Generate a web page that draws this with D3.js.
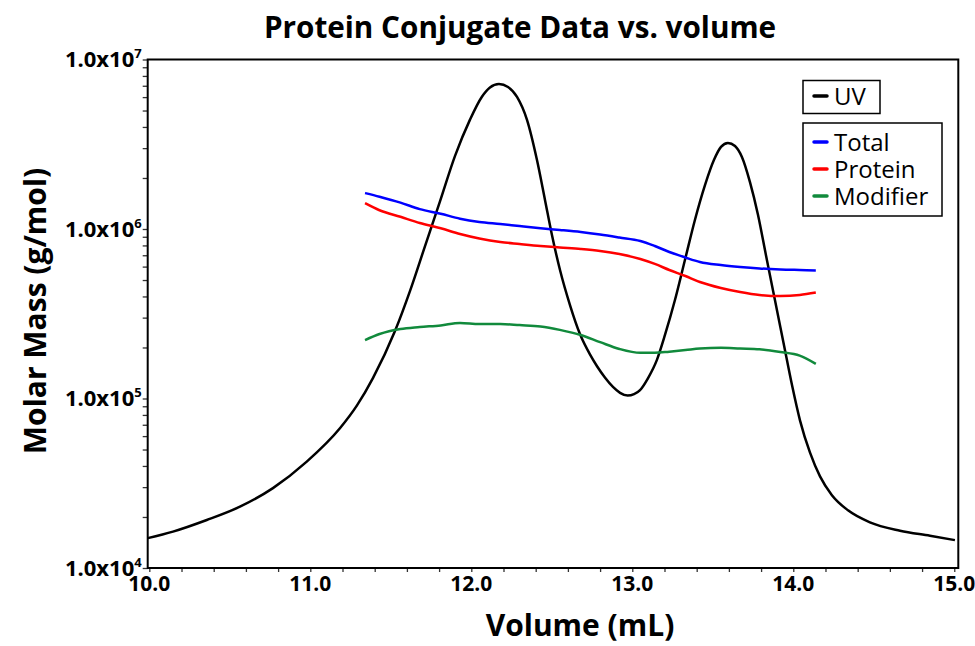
<!DOCTYPE html>
<html>
  <head>
    <meta http-equiv="Content-Type" content="text/html;charset=utf-8">
    <title>Protein Conjugate Data vs. volume</title>
    <script type="text/javascript" src="https://d3js.org/d3.v7.min.js"></script>
    <style>
      body {
        margin: 0;
        background: #fff;
        font-family: 'Open Sans', sans-serif;
      }
      text.title, text.axis-title, text.tick-label {
        font-weight: bold;
        fill: #000;
      }
      path.trace {
        fill: none;
        stroke-width: 2.5px;
        stroke-linejoin: round;
      }
    </style>
  </head>
  <body>
    <div id="chart"></div>
    <script>
// values
var uvVolume = [9.99, 10.147, 10.357, 10.563, 10.768, 10.978, 11.184, 11.29, 11.389, 11.526, 11.619,
  11.712, 11.806, 11.899, 11.992, 12.066, 12.116, 12.172, 12.228, 12.284, 12.346,
  12.408, 12.458, 12.501, 12.551, 12.613, 12.675, 12.737, 12.781, 12.830, 12.880,
  12.924, 12.971, 13.011, 13.048, 13.098, 13.153, 13.203, 13.265, 13.327, 13.389,
  13.452, 13.507, 13.551, 13.594, 13.638, 13.681, 13.731, 13.781, 13.830, 13.886,
  13.942, 13.992, 14.042, 14.104, 14.166, 14.240, 14.340, 14.476, 14.663, 14.849, 15.004];
var uvSignal = [1.50e4, 1.64e4, 1.92e4, 2.30e4, 2.96e4, 4.24e4, 6.67e4, 9.1e4, 1.32e5, 2.50e5, 4.30e5,
  7.90e5, 1.46e6, 2.70e6, 4.42e6, 6.03e6, 6.84e6, 7.17e6, 6.88e6, 6.01e6, 4.40e6,
  2.55e6, 1.48e6, 9.22e5, 5.73e5, 3.56e5, 2.40e5, 1.82e5, 1.55e5, 1.33e5, 1.17e5,
  1.08e5, 1.04e5, 1.06e5, 1.12e5, 1.32e5, 1.69e5, 2.37e5, 3.81e5, 6.56e5, 1.13e6,
  1.82e6, 2.55e6, 3.05e6, 3.22e6, 3.09e6, 2.66e6, 1.89e6, 1.21e6, 7.03e5, 3.81e5,
  2.07e5, 1.20e5, 7.41e4, 4.79e4, 3.47e4, 2.69e4, 2.19e4, 1.86e4, 1.66e4, 1.55e4, 1.46e4];

var massVolume = [11.34, 11.43, 11.56, 11.68, 11.81, 11.93, 12.05, 12.18, 12.30, 12.43,
  12.55, 12.68, 12.80, 12.92, 13.05, 13.14, 13.23, 13.33, 13.42, 13.55,
  13.67, 13.79, 13.92, 14.04, 14.14];
var totalMass = [1.63e6, 1.55e6, 1.43e6, 1.31e6, 1.23e6, 1.15e6, 1.10e6, 1.07e6, 1.04e6, 1.01e6,
  9.87e5, 9.60e5, 9.28e5, 8.91e5, 8.50e5, 7.94e5, 7.32e5, 6.79e5, 6.39e5, 6.13e5,
  5.97e5, 5.85e5, 5.77e5, 5.73e5, 5.70e5];
var proteinMass = [1.42e6, 1.29e6, 1.18e6, 1.085e6, 1.01e6, 9.34e5, 8.79e5, 8.38e5, 8.16e5, 7.94e5,
  7.78e5, 7.62e5, 7.42e5, 7.12e5, 6.65e5, 6.22e5, 5.73e5, 5.28e5, 4.87e5, 4.49e5,
  4.25e5, 4.08e5, 4.02e5, 4.08e5, 4.22e5];
var modifierMass = [2.21e5, 2.40e5, 2.57e5, 2.64e5, 2.70e5, 2.79e5, 2.75e5, 2.75e5, 2.71e5, 2.66e5,
  2.54e5, 2.37e5, 2.15e5, 1.96e5, 1.86e5, 1.86e5, 1.89e5, 1.93e5, 1.97e5, 1.99e5,
  1.97e5, 1.95e5, 1.88e5, 1.79e5, 1.60e5];

var xTicks = [10, 11, 12, 13, 14, 15];
var yTicks = [1e4, 1e5, 1e6, 1e7];
var yExponents = ["4", "5", "6", "7"];

var width = 975,
    height = 646,
    plotLeft = 147.7, plotRight = 958.3, plotTop = 59.5, plotBottom = 568;

var svg = d3.select("#chart").append("svg")
    .attr("width", width)
    .attr("height", height);

var x = d3.scaleLinear()
  .domain([9.99, 15.025])
  .range([plotLeft, plotRight]);

var y = d3.scaleLog()
  .domain([1e4, 1e7])
  .range([plotBottom, plotTop]);

// minor ticks
var xMinor = d3.range(10, 15.001, 0.2).map(function(d) { return +d.toFixed(1); });
var yMinor = [];
[1e4, 1e5, 1e6].forEach(function(p) {
  for (var k = 2; k <= 9; k++) yMinor.push(k * p);
});

svg.append("g")
    .attr("transform", "translate(0," + plotBottom + ")")
    .call(d3.axisBottom(x).tickValues(xMinor).tickSize(4).tickFormat(""))
    .call(function(g) { g.select(".domain").remove(); g.selectAll("line").attr("stroke", "#333").attr("stroke-width", 1.3); });

svg.append("g")
    .attr("transform", "translate(" + plotLeft + ",0)")
    .call(d3.axisLeft(y).tickValues(yMinor.concat(yTicks)).tickSize(5).tickFormat(""))
    .call(function(g) { g.select(".domain").remove(); g.selectAll("line").attr("stroke", "#333").attr("stroke-width", 1.3); });

// x tick labels
svg.selectAll("text.xlab")
    .data(xTicks)
  .enter().append("text")
    .attr("class", "tick-label xlab")
    .attr("x", function(d) { return x(d); })
    .attr("y", plotBottom + 23)
    .attr("text-anchor", "middle")
    .style("font-size", "21px")
    .text(function(d) { return d.toFixed(1); });

// y tick labels 1.0x10^n
var ylab = svg.selectAll("text.ylab")
    .data(yTicks)
  .enter().append("text")
    .attr("class", "tick-label ylab")
    .attr("x", plotLeft - 6)
    .attr("y", function(d) { return y(d) + 7.5; })
    .attr("text-anchor", "end")
    .style("font-size", "22px");
ylab.append("tspan").text("1.0x10");
ylab.append("tspan")
    .attr("dy", -9)
    .style("font-size", "13px")
    .text(function(d, i) { return yExponents[i]; });

// traces
var line = d3.line()
  .x(function(d) { return x(d[0]); })
  .y(function(d) { return y(d[1]); })
  .curve(d3.curveMonotoneX);

var series = [
  {name: "UV", color: "#000000", vol: uvVolume, val: uvSignal},
  {name: "Total", color: "#0000ff", vol: massVolume, val: totalMass},
  {name: "Protein", color: "#ff0000", vol: massVolume, val: proteinMass},
  {name: "Modifier", color: "#118a3c", vol: massVolume, val: modifierMass}
];

svg.selectAll("path.trace")
    .data(series)
  .enter().append("path")
    .attr("class", "trace")
    .attr("stroke", function(d) { return d.color; })
    .attr("d", function(d) { return line(d3.zip(d.vol, d.val)); });

// frame
svg.append("rect")
    .attr("x", plotLeft)
    .attr("y", plotTop)
    .attr("width", plotRight - plotLeft)
    .attr("height", plotBottom - plotTop)
    .attr("fill", "none")
    .attr("stroke", "#000")
    .attr("stroke-width", 2);

// titles
svg.append("text")
    .attr("class", "title")
    .attr("x", 520)
    .attr("y", 38)
    .attr("text-anchor", "middle")
    .style("font-size", "29.7px")
    .text("Protein Conjugate Data vs. volume");

svg.append("text")
    .attr("class", "axis-title")
    .attr("x", 580)
    .attr("y", 636)
    .attr("text-anchor", "middle")
    .style("font-size", "30px")
    .text("Volume (mL)");

svg.append("text")
    .attr("class", "axis-title")
    .attr("transform", "translate(46,311) rotate(-90)")
    .attr("text-anchor", "middle")
    .style("font-size", "30px")
    .text("Molar Mass (g/mol)");

// legends
function legendBox(items, x0, y0, w, h, rowY) {
  var g = svg.append("g");
  g.append("rect")
      .attr("x", x0).attr("y", y0)
      .attr("width", w).attr("height", h)
      .attr("fill", "#fff")
      .attr("stroke", "#000")
      .attr("stroke-width", 1.5);
  var row = g.selectAll("g.row")
      .data(items)
    .enter().append("g")
      .attr("transform", function(d, i) { return "translate(0," + rowY[i] + ")"; });
  row.append("line")
      .attr("x1", x0 + 11).attr("x2", x0 + 24)
      .attr("stroke", function(d) { return d.color; })
      .attr("stroke-width", 3.5)
      .attr("stroke-linecap", "round");
  row.append("text")
      .attr("x", x0 + 31)
      .attr("y", 8.5)
      .style("font-size", "24px")
      .text(function(d) { return d.name; });
}

legendBox(series.slice(0, 1), 803, 80.5, 77, 33, [96]);
legendBox(series.slice(1), 803, 123, 139, 93, [142, 169, 196]);
    </script>
  </body>
</html>
